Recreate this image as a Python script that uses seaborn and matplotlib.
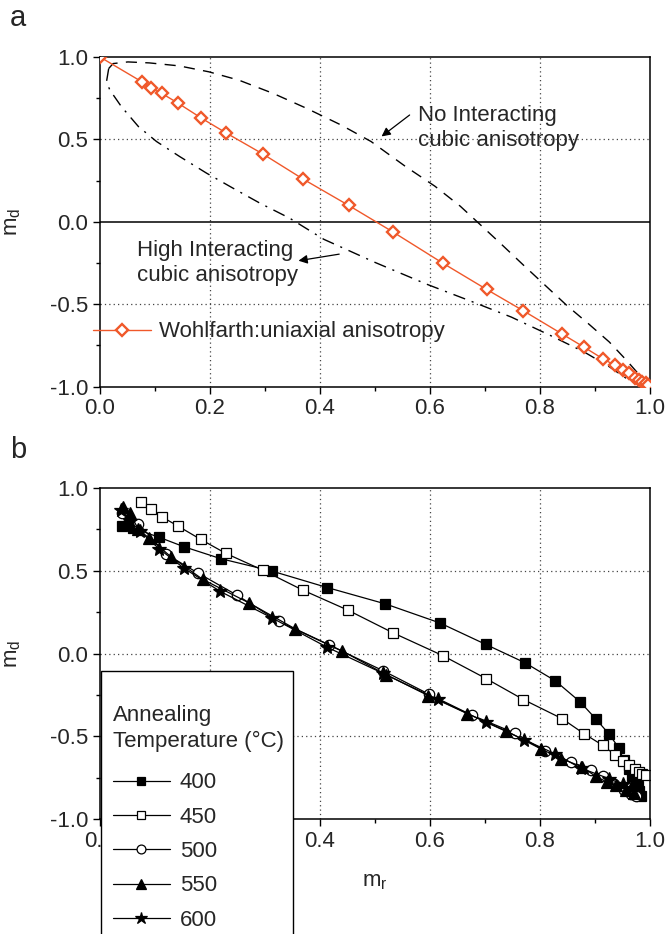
import numpy as np
import pandas as pd
import seaborn as sns
import matplotlib.pyplot as plt
from matplotlib.ticker import MultipleLocator, FuncFormatter
from matplotlib.patches import Rectangle

# panel a: Wohlfarth line and the two cubic anisotropy curves
wohl_mr = [0.0, 0.076, 0.093, 0.112, 0.142, 0.184, 0.229, 0.297, 0.369, 0.452, 0.532, 0.623, 0.703,
           0.770, 0.840, 0.880, 0.914, 0.936, 0.951, 0.962, 0.973, 0.980, 0.986, 0.992, 0.996]
wohl_md = [1.0, 0.85, 0.81, 0.78, 0.72, 0.63, 0.54, 0.41, 0.26, 0.10, -0.06, -0.25, -0.41,
           -0.54, -0.68, -0.76, -0.83, -0.87, -0.90, -0.92, -0.95, -0.96, -0.97, -0.98, -0.99]

noint_mr = [0.016, 0.024, 0.051, 0.090, 0.144, 0.198, 0.253, 0.315, 0.376, 0.438, 0.493, 0.555,
            0.609, 0.655, 0.694, 0.733, 0.771, 0.810, 0.849, 0.888, 0.926, 0.957, 0.981, 0.996]
noint_md = [0.93, 0.96, 0.97, 0.964, 0.946, 0.91, 0.859, 0.779, 0.688, 0.588, 0.487, 0.337,
            0.216, 0.095, -0.025, -0.146, -0.266, -0.387, -0.508, -0.618, -0.729, -0.839, -0.93, -1.0]

highint_mr = [0.016, 0.012, 0.018, 0.039, 0.070, 0.103, 0.145, 0.194, 0.242, 0.291, 0.345, 0.407,
              0.500, 0.593, 0.671, 0.748, 0.818, 0.880, 0.926, 0.957, 0.981, 0.996]
highint_md = [0.93, 0.85, 0.80, 0.699, 0.578, 0.487, 0.396, 0.295, 0.204, 0.113, 0.022, -0.106,
              -0.246, -0.377, -0.477, -0.578, -0.688, -0.789, -0.879, -0.95, -0.99, -1.0]

# panel b: annealing temperatures
temps = ['400', '450', '500', '550', '600']
t400_mr = [0.041, 0.060, 0.108, 0.153, 0.220, 0.313, 0.413, 0.519, 0.618, 0.701, 0.773, 0.828, 0.873,
           0.901, 0.926, 0.943, 0.952, 0.961, 0.968, 0.975, 0.978, 0.972, 0.980, 0.975, 0.983, 0.978]
t400_md = [0.770, 0.758, 0.702, 0.645, 0.573, 0.498, 0.399, 0.300, 0.185, 0.056, -0.056, -0.165, -0.292,
           -0.393, -0.488, -0.569, -0.641, -0.696, -0.74, -0.77, -0.80, -0.82, -0.83, -0.85, -0.86, -0.84]
t450_mr = [0.075, 0.092, 0.112, 0.142, 0.183, 0.229, 0.296, 0.369, 0.451, 0.533, 0.623, 0.702,
           0.770, 0.840, 0.880, 0.914, 0.936, 0.951, 0.962, 0.972, 0.980, 0.986, 0.992]
t450_md = [0.913, 0.875, 0.827, 0.770, 0.690, 0.605, 0.504, 0.383, 0.262, 0.125, -0.012, -0.151,
           -0.278, -0.393, -0.484, -0.554, -0.611, -0.648, -0.676, -0.700, -0.718, -0.726, -0.735]
t500_mr = [0.040, 0.070, 0.121, 0.179, 0.249, 0.325, 0.417, 0.515, 0.599, 0.676, 0.754, 0.810,
           0.857, 0.893, 0.915, 0.934, 0.953, 0.965, 0.975]
t500_md = [0.847, 0.785, 0.599, 0.485, 0.353, 0.194, 0.051, -0.104, -0.247, -0.372, -0.480, -0.591,
           -0.655, -0.702, -0.742, -0.786, -0.827, -0.847, -0.86]
t550_mr = [0.042, 0.054, 0.070, 0.090, 0.129, 0.187, 0.271, 0.354, 0.440, 0.520, 0.597, 0.668,
           0.739, 0.801, 0.839, 0.877, 0.901, 0.922, 0.938, 0.957, 0.970]
t550_md = [0.883, 0.851, 0.750, 0.696, 0.585, 0.448, 0.306, 0.151, 0.016, -0.127, -0.254, -0.363,
           -0.468, -0.575, -0.635, -0.685, -0.742, -0.776, -0.796, -0.823, -0.84]
t600_mr = [0.039, 0.055, 0.073, 0.108, 0.153, 0.219, 0.313, 0.412, 0.515, 0.614, 0.701, 0.771,
           0.827, 0.874, 0.926, 0.950, 0.965]
t600_md = [0.869, 0.80, 0.738, 0.632, 0.515, 0.375, 0.215, 0.040, -0.12, -0.277, -0.413, -0.520,
           -0.605, -0.692, -0.756, -0.79, -0.81]

sns.set_style('ticks')
plt.rcParams['font.family'] = ['Liberation Sans', 'DejaVu Sans']
plt.rcParams['mathtext.default'] = 'regular'
plt.rcParams['axes.linewidth'] = 1.1

FS = 16
orange = '#f0582a'


def style_axes(ax, zero_solid):
    ax.set_xlim(0, 1)
    ax.set_ylim(-1, 1)
    ax.xaxis.set_major_locator(MultipleLocator(0.2))
    ax.xaxis.set_minor_locator(MultipleLocator(0.1))
    ax.yaxis.set_major_locator(MultipleLocator(0.5))
    ax.yaxis.set_minor_locator(MultipleLocator(0.25))
    ax.tick_params(which='major', direction='out', length=5, width=1, labelsize=FS, color='black')
    ax.tick_params(which='minor', direction='out', length=3, width=1, color='black')
    ax.xaxis.set_major_formatter(plt.FormatStrFormatter('%.1f'))
    ax.yaxis.set_major_formatter(plt.FormatStrFormatter('%.1f'))
    for v in [0.2, 0.4, 0.6, 0.8]:
        ax.axvline(v, color='#444444', lw=0.9, ls=(0, (1, 2.5)), zorder=0)
    for v in [0.5, -0.5] + ([] if zero_solid else [0.0]):
        ax.axhline(v, color='#444444', lw=0.9, ls=(0, (1, 2.5)), zorder=0)
    if zero_solid:
        ax.axhline(0.0, color='black', lw=1.1, zorder=1)
    for s in ax.spines.values():
        s.set_color('black')
    ax.set_ylabel('m$_{d}$', fontsize=FS)
    ax.yaxis.set_label_coords(-0.14, 0.5)


fig = plt.figure(figsize=(6.66, 9.34), dpi=100)
ax_a = fig.add_axes([0.150, 0.586, 0.826, 0.353])
ax_b = fig.add_axes([0.150, 0.123, 0.826, 0.3545])

# ---- panel a
sns.lineplot(x=noint_mr, y=noint_md, ax=ax_a, sort=False, estimator=None, color='black',
             lw=1.0, linestyle=(0, (8, 6)))
sns.lineplot(x=highint_mr, y=highint_md, ax=ax_a, sort=False, estimator=None, color='black',
             lw=1.0, linestyle=(0, (9, 5, 1.5, 5)))
sns.lineplot(x=wohl_mr, y=wohl_md, ax=ax_a, sort=False, estimator=None, color=orange, lw=1.0,
             marker='D', markersize=6, markerfacecolor='white', markeredgecolor=orange,
             markeredgewidth=1.7, label='Wohlfarth:uniaxial anisotropy', zorder=5)
style_axes(ax_a, zero_solid=True)
ax_a.legend(loc='center left', bbox_to_anchor=(-0.012, 0.166), frameon=False, fontsize=FS,
            handlelength=2.6, handletextpad=0.35, borderpad=0, borderaxespad=0)

arrow_kw = dict(arrowstyle='-|>', color='black', lw=0.9, mutation_scale=13, shrinkA=0, shrinkB=0)
ax_a.text(0.578, 0.572, 'No Interacting\ncubic anisotropy', fontsize=FS, va='center', ha='left',
          linespacing=1.25)
ax_a.annotate('', xy=(0.512, 0.518), xytext=(0.563, 0.648), arrowprops=arrow_kw)
ax_a.text(0.067, -0.25, 'High Interacting\ncubic anisotropy', fontsize=FS, va='center', ha='left',
          linespacing=1.25)
ax_a.annotate('', xy=(0.361, -0.236), xytext=(0.435, -0.196), arrowprops=arrow_kw)

# ---- panel b
series = [
    (t400_mr, t400_md, 's', 'black', 7.5),
    (t450_mr, t450_md, 's', 'white', 7.5),
    (t500_mr, t500_md, 'o', 'white', 7.5),
    (t550_mr, t550_md, '^', 'black', 8.5),
    (t600_mr, t600_md, '*', 'black', 10.5),
]
for (mr, md, mk, fc, ms), t in zip(series, temps):
    df = pd.DataFrame({'mr': mr, 'md': md})
    sns.lineplot(data=df, x='mr', y='md', ax=ax_b, sort=False, estimator=None, color='black',
                 lw=0.9, marker=mk, markersize=ms, markerfacecolor=fc, markeredgecolor='black',
                 markeredgewidth=0.9, label=t)
style_axes(ax_b, zero_solid=False)
# the 0.2 label sits fully under the legend box
ax_b.xaxis.set_major_formatter(FuncFormatter(lambda v, p: '' if abs(v - 0.2) < 1e-6 else f'{v:.1f}'))
ax_b.set_xlabel('m$_{r}$', fontsize=FS, labelpad=14)

# white legend box running past the bottom of the figure
box = Rectangle((0.002, -0.6), 0.349, 0.4475 + 0.6, transform=ax_b.transAxes, facecolor='white',
                edgecolor='black', lw=1.0, clip_on=False, zorder=9)
ax_b.add_patch(box)
leg_b = ax_b.legend(title='Annealing\nTemperature (\u00b0C)', loc='upper left',
                    bbox_to_anchor=(0.024, 0.346), borderaxespad=0, fontsize=FS,
                    title_fontsize=FS, handlelength=2.55, handletextpad=0.45, labelspacing=0.6,
                    borderpad=0, frameon=False)
leg_b._legend_box.align = 'left'
leg_b._legend_box.sep = 15
leg_b.get_title().set_linespacing(1.3)
for h in leg_b.legend_handles:
    h.set_markersize(h.get_markersize() * 0.85)
leg_b.set_zorder(10)

fig.text(0.015, 0.981, 'a', fontsize=21, va='center', ha='left')
fig.text(0.015, 0.518, 'b', fontsize=21, va='center', ha='left')

fig.savefig('out.png', dpi=100)
